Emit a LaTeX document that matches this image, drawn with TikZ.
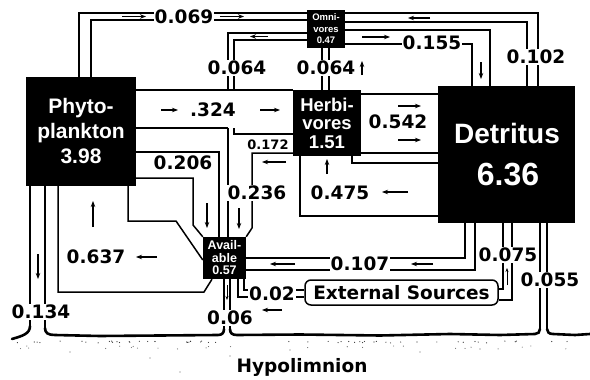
\documentclass[tikz,border=0pt]{standalone}
\usepackage{fontspec}
\setmainfont{DejaVu Sans}
\newfontfamily\boxfont{Liberation Sans}
\usetikzlibrary{arrows.meta}
\begin{document}
\begin{tikzpicture}[x=1pt,y=-1pt,
  pipe/.style={line width=1.5pt, line join=miter},
  ground/.style={line width=2.6pt, line cap=round},
  arr/.style={line width=1.3pt, -{Stealth[length=6pt,width=4.5pt]}},
  sarr/.style={line width=1pt, -{Stealth[length=4pt,width=3pt]}},
  lab/.style={font=\fontsize{18.5}{20}\selectfont\bfseries, fill=white, inner sep=1.2pt},
  slab/.style={font=\fontsize{13}{14}\selectfont\bfseries, fill=white, inner sep=0.8pt},
  compart/.style={fill=black, text=white, inner sep=0pt, align=center},
]
\useasboundingbox[fill=white] (0,0) rectangle (590,380);

% compartments
\node[compart, minimum width=110pt, minimum height=109pt, font=\boxfont\fontsize{21}{25}\selectfont\bfseries] (phyto) at (81,131.5) {Phyto-\\plankton\\3.98};
\node[compart, minimum width=68pt, minimum height=66pt, font=\boxfont\fontsize{18.5}{18.5}\selectfont\bfseries] (herb) at (327,123) {Herbi-\\vores\\1.51};
\node[compart, minimum width=137pt, minimum height=137pt] (detr) at (506.5,154.5) {};
\node[text=white, font=\boxfont\fontsize{28}{30}\selectfont\bfseries, inner sep=0pt] (detrname) at (507,133) {Detritus};
\node[text=white, font=\boxfont\fontsize{32}{34}\selectfont\bfseries, inner sep=0pt] (detrval) at (508,175) {6.36};
\node[compart, minimum width=38pt, minimum height=38pt, font=\boxfont\fontsize{9.5}{11.5}\selectfont\bfseries] (omni) at (326,29) {Omni-\\vores\\0.47};
\node[compart, minimum width=43pt, minimum height=42pt, font=\boxfont\fontsize{12.5}{12.5}\selectfont\bfseries] (avail) at (224.5,258) {Avail-\\able\\0.57};
\node[draw, line width=1.5pt, rounded corners=6pt, minimum width=193pt, minimum height=25pt, font=\fontsize{18.5}{20}\selectfont\bfseries, inner sep=0pt] (ext) at (401.5,292.5) {External Sources};

% pipes
% 0.069 phyto -> omni
\draw[pipe] (79,0 |- phyto.north) -- (79,13) -- (79,13 -| omni.west);
\draw[pipe] (91,0 |- phyto.north) -- (91,20) -- (91,20 -| omni.west);
% 0.064 omni -> available
\draw[pipe] (0,33 -| omni.west) -- (228,33) -- (228,90);
\draw[pipe] (0,40 -| omni.west) -- (234,40) -- (234,90);
\draw[pipe] (228,128) -- (228,0 |- avail.north);
\draw[pipe] (234,128) -- (234,134) -- (0,134 -| herb.west);
% .324 phyto -> herbivores
\draw[pipe] (0,90 -| phyto.east) -- (0,90 -| herb.west);
\draw[pipe] (0,128 -| phyto.east) -- (228,128);
% 0.172 herbivores -> available
\draw[pipe] (0,153 -| herb.west) -- (252,153) -- (252,228) -- (avail.north east);
% 0.206 phyto -> available
\draw[pipe] (0,152 -| phyto.east) -- (219,152) -- (219,0 |- avail.north);
\draw[pipe] (0,178 -| phyto.east) -- (193,178) -- (193,225) -- (avail.north west);
% 0.637 available -> phyto
\draw[pipe] (128,0 |- phyto.south) -- (128,221) -- (176,221) -- (0,260 -| avail.west);
\draw[pipe] (58,0 |- phyto.south) -- (58,292) -- (204,292) -- (212,0 |- avail.south);
% 0.134 phyto -> hypolimnion
\draw[pipe] (30,0 |- phyto.south) -- (30,326);
\draw[pipe] (45,0 |- phyto.south) -- (45,328);
% 0.06 available -> hypolimnion
\draw[pipe] (224,0 |- avail.south) -- (224,329);
\draw[pipe] (230,0 |- avail.south) -- (230,329);
% 0.02 external -> available
\draw[pipe] (238,0 |- avail.south) -- (238,297) -- (0,297 -| ext.west);
\draw[pipe] (244,0 |- avail.south) -- (244,290) -- (0,290 -| ext.west);
% 0.107 detritus -> available
\draw[pipe] (465,0 |- detr.south) -- (465,258) -- (0,258 -| avail.east);
\draw[pipe] (475,0 |- detr.south) -- (475,270) -- (0,270 -| avail.east);
% 0.075 external -> detritus
\draw[pipe] (503,0 |- detr.south) -- (503,289) -- (0,289 -| ext.east);
\draw[pipe] (512,0 |- detr.south) -- (512,300) -- (0,300 -| ext.east);
% 0.055 detritus -> hypolimnion
\draw[pipe] (540,0 |- detr.south) -- (540,329);
\draw[pipe] (547,0 |- detr.south) -- (547,329);
% 0.542 herbivores -> detritus
\draw[pipe] (0,94 -| herb.east) -- (0,94 -| detr.west);
\draw[pipe] (0,153 -| herb.east) -- (0,153 -| detr.west);
% 0.475 detritus -> herbivores
\draw[pipe] (352,0 |- herb.south) -- (352,163) -- (0,163 -| detr.west);
\draw[pipe] (300,0 |- herb.south) -- (300,216) -- (0,216 -| detr.west);
% 0.064 herbivores -> omnivores
\draw[pipe] (322,0 |- herb.north) -- (322,0 |- omni.south);
\draw[pipe] (329,0 |- herb.north) -- (329,0 |- omni.south);
% 0.155 omnivores -> detritus
\draw[pipe] (0,30 -| omni.east) -- (490,30) -- (490,0 |- detr.north);
\draw[pipe] (0,44 -| omni.east) -- (472,44) -- (472,0 |- detr.north);
% 0.102 detritus -> omnivores
\draw[pipe] (0,13 -| omni.east) -- (538,13) -- (538,0 |- detr.north);
\draw[pipe] (0,22 -| omni.east) -- (527,22) -- (527,0 |- detr.north);

% ground (lake bottom)
\draw[ground] (30,326) .. controls (30,334) and (22,336) .. (12,339);
\draw[ground] (45,328) .. controls (45,333) and (48,335) .. (55,335)
  -- (100,336) -- (160,335.5) -- (218,335) .. controls (222,335) and (224,333) .. (224,329);
\draw[ground] (230,329) .. controls (230,333) and (232,335) .. (237,335)
  -- (300,334.5) -- (380,335.5) -- (450,334) -- (500,335) -- (535,334) .. controls (538,334) and (540,332) .. (540,329);
\draw[ground] (547,329) .. controls (547,332) and (549,334) .. (553,334) -- (575,335) -- (590,334);
\pgfmathsetseed{11}
\foreach \i in {1,...,55} {
  \pgfmathsetmacro\dx{14+572*rnd}
  \pgfmathsetmacro\dy{341+2*rnd}
  \fill[black!80] (\dx,\dy) circle (0.6pt);
}
\foreach \i in {1,...,25} {
  \pgfmathsetmacro\dx{20+560*rnd}
  \pgfmathsetmacro\dy{346+3*rnd}
  \fill[black!60] (\dx,\dy) circle (0.55pt);
}
\foreach \p in {(70,352),(150,358),(230,356),(180,372),(290,350),(420,352),(480,349)} {
  \fill[black!60] \p circle (0.55pt);
}
\node[font=\fontsize{18.5}{20}\selectfont\bfseries] (hypo) at (302,367) {Hypolimnion};

% flow labels
\node[lab] (l069) at (184,16.5) {0.069};
\node[lab] (l064a) at (237,68) {0.064};
\node[lab] (l064b) at (326,68) {0.064};
\node[lab] (l155) at (432,43) {0.155};
\node[lab] (l102) at (536,57) {0.102};
\node[lab] (l324) at (213,110) {.324};
\node[lab] (l542) at (398,122) {0.542};
\node[slab] (l172) at (268,145) {0.172};
\node[lab] (l236) at (257,193) {0.236};
\node[lab] (l206) at (183,163) {0.206};
\node[lab] (l475) at (340,193) {0.475};
\node[lab] (l637) at (96,257) {0.637};
\node[lab] (l134) at (41,312) {0.134};
\node[lab] (l06) at (230,318) {0.06};
\node[lab] (l02) at (272,294) {0.02};
\node[lab] (l107) at (360,264) {0.107};
\node[lab] (l075) at (508,255) {0.075};
\node[lab] (l055) at (550,280) {0.055};

% flow direction arrows
\draw[arr] (122,16.5) -- (146,16.5);
\draw[arr] (220,16.5) -- (244,16.5);
\draw[arr] (268,36.5) -- (250,36.5);
\draw[arr] (362,75) -- (362,61);
\draw[arr] (362,37) -- (390,37);
\draw[arr] (481,62) -- (481,79);
\draw[arr] (430,18) -- (408,18);
\draw[arr] (161,110) -- (178,110);
\draw[arr] (260,110) -- (280,110);
\draw[arr] (398,106) -- (421,106);
\draw[arr] (398,140) -- (421,140);
\draw[arr] (327,174) -- (327,159);
\draw[arr] (408,192) -- (382,192);
\draw[arr] (286,162) -- (262,162);
\draw[arr] (239,208) -- (239,229);
\draw[arr] (207,203) -- (207,228);
\draw[arr] (93,227) -- (93,201);
\draw[arr] (157,257) -- (136,257);
\draw[arr] (38,254) -- (38,279);
\draw[arr] (433,264) -- (411,264);
\draw[arr] (295,264) -- (270,264);
\draw[arr] (282,310) -- (262,310);
\draw[sarr] (507,285) -- (507,268);
\draw[sarr] (227,285) -- (227,300);
\end{tikzpicture}
\end{document}
